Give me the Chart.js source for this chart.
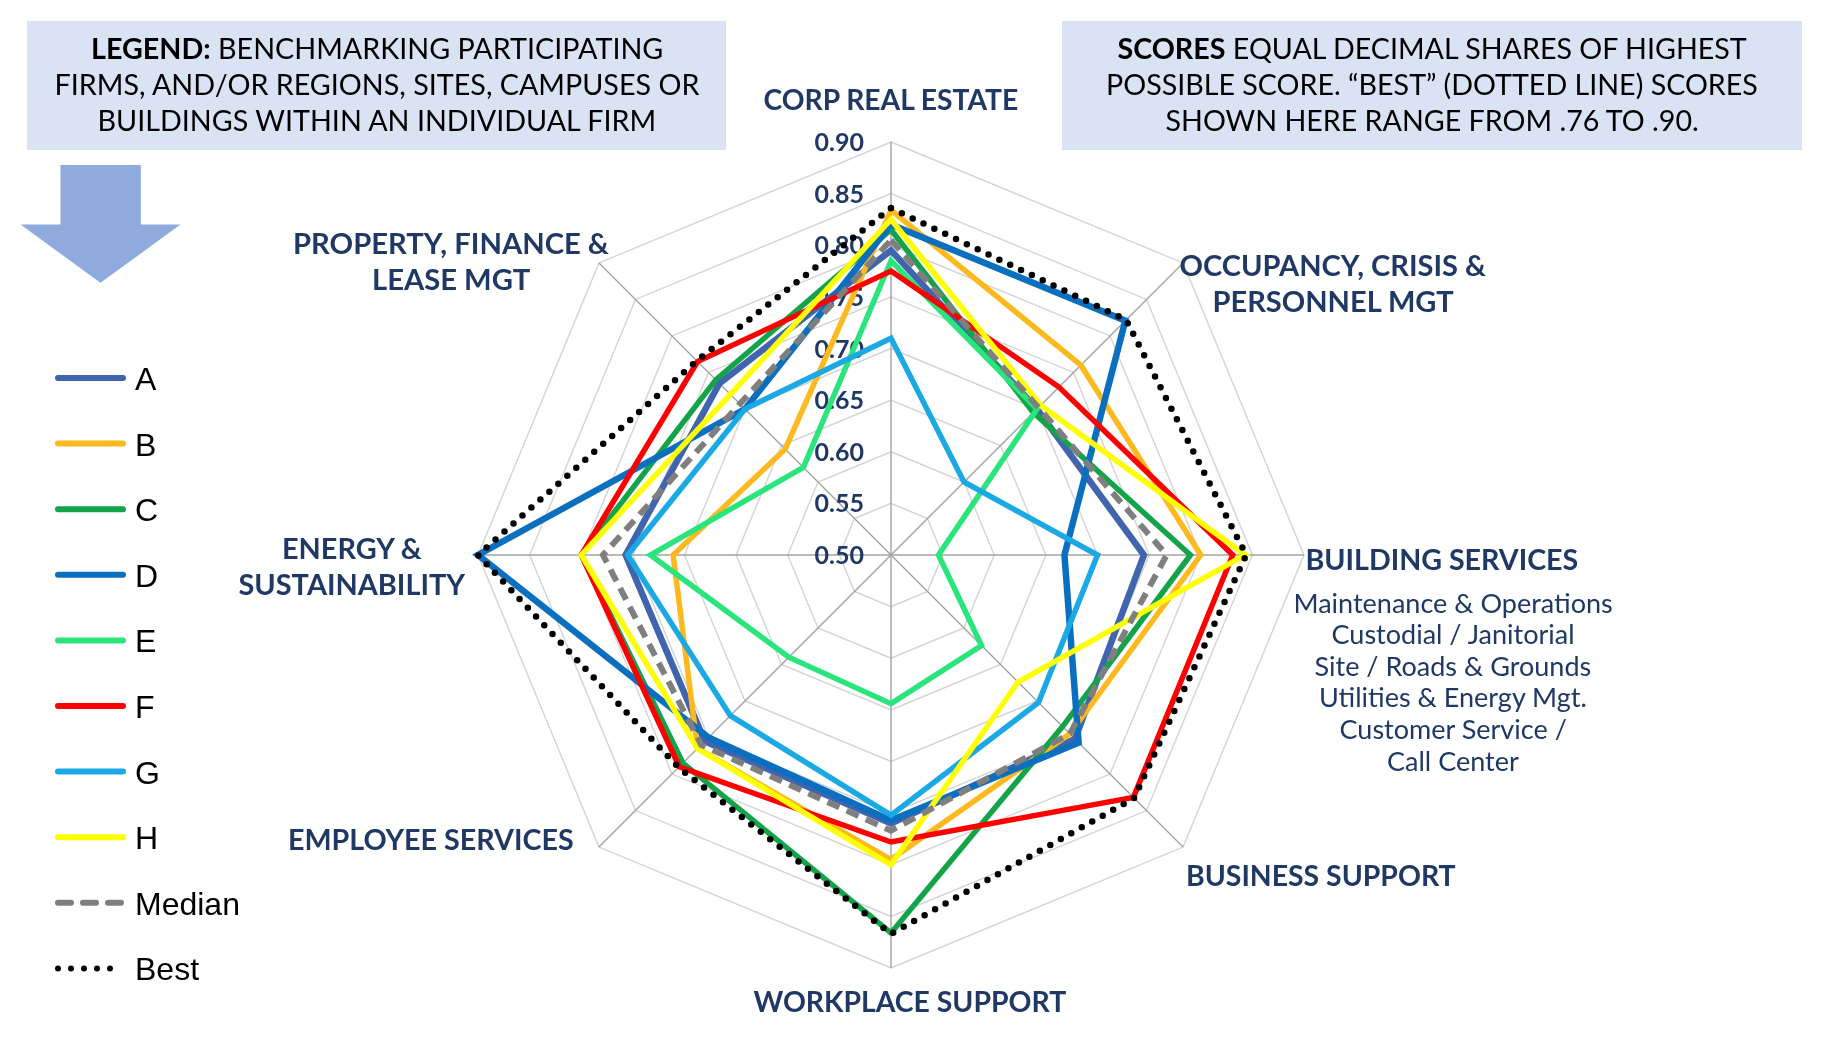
<!DOCTYPE html>
<html>
<head>
<meta charset="utf-8">
<title>Benchmarking radar</title>
<script src="https://cdn.jsdelivr.net/npm/chart.js"></script>
<style>
  html, body { margin: 0; padding: 0; background: #fff; }
  #wrap { position: relative; width: 1825px; height: 1046px; overflow: hidden; font-family: Lato, "Open Sans", sans-serif; }
  #radar { position: absolute; left: 0; top: 0; }
  .panel { position: absolute; background: #dae3f3; }
  .txt { position: absolute; white-space: nowrap; line-height: 1; }
  .note { color: #000; font-size: 28px; }
  .cat { color: #1f3864; font-weight: bold; font-size: 28px; }
  .sub { color: #1f3864; font-size: 25px; }
  .leg { position: absolute; left: 135px; font-family: "Liberation Sans", Arial, sans-serif; font-size: 32px; color: #000; line-height: 1; }
  svg { position: absolute; left: 0; top: 0; }
</style>
</head>
<body>
<div id="wrap">
  <div class="panel" style="left:27px; top:21px; width:699px; height:129px;"></div>
  <div class="panel" style="left:1062px; top:21px; width:740px; height:129px;"></div>
  <svg width="1825" height="1046" id="deco">
    <polygon points="60.5,165 140.8,165 140.8,224.6 180.4,224.6 100.5,282.8 20.6,224.6 60.5,224.6" fill="#8faadc"/>
  </svg>
  <canvas id="radar" width="1825" height="1046"></canvas>
</div>
<script>
const categories = ['CORP REAL ESTATE', 'OCCUPANCY, CRISIS & PERSONNEL MGT', 'BUILDING SERVICES',
  'BUSINESS SUPPORT', 'WORKPLACE SUPPORT', 'EMPLOYEE SERVICES', 'ENERGY & SUSTAINABILITY',
  'PROPERTY, FINANCE & LEASE MGT'];
const seriesNames = ['A', 'B', 'C', 'D', 'E', 'F', 'G', 'H', 'Median', 'Best'];

const scoreA = [0.795, 0.700, 0.745, 0.752, 0.760, 0.755, 0.757, 0.735];
const scoreB = [0.834, 0.760, 0.800, 0.745, 0.795, 0.765, 0.711, 0.645];
const scoreC = [0.815, 0.695, 0.790, 0.735, 0.866, 0.785, 0.800, 0.740];
const scoreD = [0.820, 0.821, 0.668, 0.757, 0.757, 0.750, 0.900, 0.700];
const scoreE = [0.785, 0.700, 0.546, 0.624, 0.644, 0.640, 0.733, 0.620];
const scoreF = [0.775, 0.730, 0.831, 0.832, 0.778, 0.790, 0.800, 0.765];
const scoreG = [0.710, 0.600, 0.700, 0.702, 0.752, 0.720, 0.755, 0.700];
const scoreH = [0.825, 0.705, 0.843, 0.674, 0.800, 0.765, 0.800, 0.720];
const scoreMedian = [0.805, 0.702, 0.767, 0.745, 0.767, 0.760, 0.779, 0.707];
const scoreBest = [0.836, 0.822, 0.844, 0.833, 0.867, 0.791, 0.900, 0.766];

const tickValues = [0.50, 0.55, 0.60, 0.65, 0.70, 0.75, 0.80, 0.85, 0.90];

const allScores = [scoreA, scoreB, scoreC, scoreD, scoreE, scoreF, scoreG, scoreH, scoreMedian, scoreBest];
const lineColors = ['#4064ae', '#fdb91e', '#13a44a', '#0b6fc0', '#2ae47c', '#ff0000', '#1aa9e4', '#ffff00', '#7f7f7f', '#000000'];

const datasets = seriesNames.map((name, i) => {
  const ds = {
    label: name,
    data: allScores[i],
    borderColor: lineColors[i],
    backgroundColor: 'transparent',
    borderWidth: (name === 'A' || name === 'D') ? 6.5 : 5.5,
    fill: false,
    pointRadius: 0,
    pointHoverRadius: 0,
    tension: 0,
    clip: false,
    order: seriesNames.length - 1 - i
  };
  if (name === 'Median') {
    ds.borderDash = [13, 8];
    ds.borderWidth = 6;
  }
  if (name === 'Best') {
    ds.borderDash = [0, 12];
    ds.borderCapStyle = 'round';
    ds.borderWidth = 6.5;
  }
  return ds;
});

// tick labels sit just left of the vertical axis, under the data lines
const tickLabels = {
  id: 'tickLabels',
  beforeDatasetsDraw(chart) {
    const r = chart.scales.r;
    const ctx = chart.ctx;
    ctx.save();
    ctx.font = 'bold 25px Lato';
    ctx.fillStyle = '#1f3864';
    ctx.textAlign = 'right';
    ctx.textBaseline = 'middle';
    tickValues.forEach(v => {
      const p = r.getPointPositionForValue(0, v);
      ctx.fillText(v.toFixed(2), p.x - 27, p.y + 1);
    });
    ctx.restore();
  }
};

const chart = new Chart(document.getElementById('radar').getContext('2d'), {
  type: 'radar',
  data: { labels: categories, datasets: datasets },
  options: {
    responsive: false,
    devicePixelRatio: 1,
    animation: false,
    layout: { padding: { left: 478, top: 142, right: 521, bottom: 78 } },
    plugins: { legend: { display: false }, tooltip: { enabled: false } },
    elements: { line: { borderJoinStyle: 'miter' } },
    scales: {
      r: {
        min: 0.5,
        max: 0.9,
        ticks: { stepSize: 0.05, display: false },
        grid: { color: '#d3d3d3', lineWidth: 1.4 },
        angleLines: { color: '#a3a3a3', lineWidth: 1.4 },
        pointLabels: { display: false }
      }
    }
  },
  plugins: [tickLabels]
});

const wrap = document.getElementById('wrap');

// writes centred lines, scaled so the widest line gets the wanted width
function textBlock(lines, cx, y0, dy, targetW, cls) {
  const els = lines.map(t => {
    const d = document.createElement('div');
    d.className = 'txt ' + cls;
    d.innerHTML = t;
    wrap.appendChild(d);
    return d;
  });
  const maxW = Math.max(...els.map(e => e.offsetWidth));
  const size = parseFloat(getComputedStyle(els[0]).fontSize) * targetW / maxW;
  els.forEach((e, i) => {
    e.style.fontSize = size + 'px';
    e.style.left = (cx - e.offsetWidth / 2) + 'px';
    e.style.top = (y0 + i * dy - e.offsetHeight / 2) + 'px';
  });
}

textBlock(['<b>LEGEND:</b> BENCHMARKING PARTICIPATING', 'FIRMS, AND/OR REGIONS, SITES, CAMPUSES OR',
  'BUILDINGS WITHIN AN INDIVIDUAL FIRM'], 377, 48, 36, 645, 'note');
textBlock(['<b>SCORES</b> EQUAL DECIMAL SHARES OF HIGHEST', 'POSSIBLE SCORE. \u201cBEST\u201d (DOTTED LINE) SCORES',
  'SHOWN HERE RANGE FROM .76 TO .90.'], 1432, 48, 36, 652, 'note');

textBlock(['CORP REAL ESTATE'], 891, 99, 0, 255, 'cat');
textBlock(['OCCUPANCY, CRISIS &', 'PERSONNEL MGT'], 1333, 264, 36, 307, 'cat');
textBlock(['BUILDING SERVICES'], 1442, 559, 0, 273, 'cat');
textBlock(['Maintenance &amp; Operations', 'Custodial / Janitorial', 'Site / Roads &amp; Grounds',
  'Utilities &amp; Energy Mgt.', 'Customer Service /', 'Call Center'], 1453, 602, 31.6, 319, 'sub');
textBlock(['BUSINESS SUPPORT'], 1321, 875, 0, 270, 'cat');
textBlock(['WORKPLACE SUPPORT'], 910, 1001, 0, 313, 'cat');
textBlock(['EMPLOYEE SERVICES'], 431, 839, 0, 286, 'cat');
textBlock(['ENERGY &amp;', 'SUSTAINABILITY'], 352, 548, 36, 227, 'cat');
textBlock(['PROPERTY, FINANCE &amp;', 'LEASE MGT'], 451, 242, 36, 316, 'cat');

// legend on the left, built from the chart's datasets
const deco = document.getElementById('deco');
const ns = 'http://www.w3.org/2000/svg';
chart.data.datasets.forEach((ds, i) => {
  const y = 378 + i * 65.6;
  const ln = document.createElementNS(ns, 'line');
  ln.setAttribute('x1', 58);
  ln.setAttribute('x2', 123);
  ln.setAttribute('y1', y);
  ln.setAttribute('y2', y);
  ln.setAttribute('stroke', ds.borderColor);
  ln.setAttribute('stroke-width', 6);
  ln.setAttribute('stroke-linecap', 'round');
  if (ds.label === 'Median') ln.setAttribute('stroke-dasharray', '13 12');
  if (ds.label === 'Best') ln.setAttribute('stroke-dasharray', '0 13');
  deco.appendChild(ln);
  const t = document.createElement('div');
  t.className = 'leg';
  t.textContent = ds.label;
  wrap.appendChild(t);
  t.style.top = (y - t.offsetHeight / 2 + 1) + 'px';
});
</script>
</body>
</html>
